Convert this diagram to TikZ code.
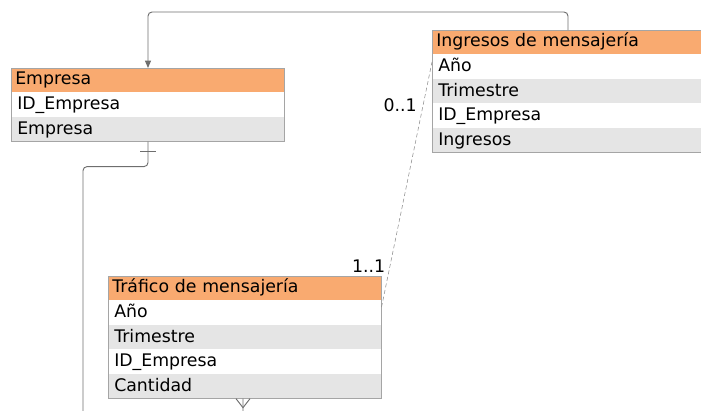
\documentclass[tikz,border=0pt]{standalone}
\usepackage{fontspec}
\setmainfont{DejaVu Sans}
\usetikzlibrary{positioning, arrows.meta, calc}
\definecolor{headorange}{RGB}{249,170,112}
\definecolor{rowgray}{RGB}{229,229,229}
\definecolor{tblline}{RGB}{165,165,165}
\definecolor{connline}{RGB}{110,110,110}
\tikzset{
  tblhead/.style = {fill=headorange, anchor=north west, text width=#1, inner xsep=3pt, inner ysep=0pt, minimum height=18pt, align=left, font=\fontsize{13}{15}\selectfont, text height=9.5pt, text depth=2.5pt},
  tblrow/.style  = {tblhead=#1, fill=white, inner xsep=4.5pt},
  grayrow/.style = {tblrow=#1, fill=rowgray},
  tblbox/.style  = {draw=tblline, line width=0.6pt},
  conn/.style    = {draw=connline, line width=0.7pt},
  lbl/.style     = {font=\fontsize{13}{15}\selectfont, inner sep=0pt}
}

\begin{document}
\begin{tikzpicture}[x=0.75pt, y=-0.75pt]
  \useasboundingbox (0,0) rectangle (701,411);
  \clip (0,0) rectangle (701,411);

  % Empresa
  \node[tblhead=198.75pt] (emp) at (11,68) {Empresa};
  \node[tblrow=195.75pt, below=0pt of emp] (empid) {ID\_Empresa};
  \node[grayrow=195.75pt, below=0pt of empid] (empnom) {Empresa};
  \draw[tblbox] (emp.north west) rectangle (empnom.south east);

  % Ingresos de mensajeria (runs past the right edge)
  \node[tblhead=234pt] (ing) at (432,30) {Ingresos de mensajería};
  \node[tblrow=231pt, below=0pt of ing] (ingano) {Año};
  \node[grayrow=231pt, below=0pt of ingano] (ingtri) {Trimestre};
  \node[tblrow=231pt, below=0pt of ingtri] (ingid) {ID\_Empresa};
  \node[grayrow=231pt, below=0pt of ingid] (ingval) {Ingresos};
  \draw[tblbox] (ing.north west) rectangle (ingval.south east);

  % Trafico de mensajeria
  \node[tblhead=198.75pt] (tra) at (108,276) {Tráfico de mensajería};
  \node[tblrow=195.75pt, below=0pt of tra] (traano) {Año};
  \node[grayrow=195.75pt, below=0pt of traano] (tratri) {Trimestre};
  \node[tblrow=195.75pt, below=0pt of tratri] (traid) {ID\_Empresa};
  \node[grayrow=195.75pt, below=0pt of traid] (tracant) {Cantidad};
  \draw[tblbox] (tra.north west) rectangle (tracant.south east);

  % ingresos -> empresa
  \coordinate (ingtop) at ([xshift=102pt]ing.north west);
  \coordinate (emptop) at ([xshift=102.75pt]emp.north west);
  \draw[conn, rounded corners=3pt, -{Triangle[length=5.5pt, width=4.5pt]}]
    (ingtop) -- ++(0,-18) -| (emptop);

  % empresa -> trafico
  \coordinate (empbot) at ([xshift=102.75pt]empnom.south west);
  \coordinate (trabot) at ([xshift=101.25pt]tracant.south west);
  \coordinate (bend) at (83,425);
  \draw[conn, rounded corners=3pt] (empbot) -- ++(0,25) -| (bend) -| (trabot);
  \draw[conn] ($(empbot)+(-8,10)$) -- ++(16,0);
  \draw[conn] ($(trabot)+(-7,0)$) -- ($(trabot)+(0,9)$) -- ($(trabot)+(7,0)$);

  % trafico -- ingresos
  \draw[draw=connline!80, line width=0.4pt, densely dashed]
    ($(tra.north east)+(0,31)$) -- ($(ing.north west)+(0,32)$);
  \node[lbl, anchor=east] at ([shift={(-15,75)}]ing.north west) {0..1};
  \node[lbl, anchor=south east] at ([shift={(4,-3)}]tra.north east) {1..1};
\end{tikzpicture}
\end{document}
